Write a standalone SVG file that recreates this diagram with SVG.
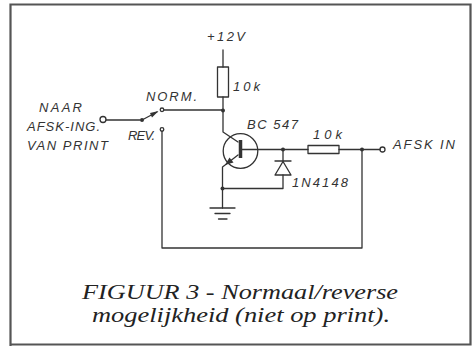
<svg xmlns="http://www.w3.org/2000/svg" width="476" height="347" viewBox="0 0 476 347">
<style>
.w{fill:none;stroke:#333;stroke-width:1.3;stroke-linecap:round;stroke-linejoin:round}
.d{fill:#333}
.t{font-family:"Liberation Sans",Arial,sans-serif;font-style:italic;font-size:13px;fill:#333}
.c{font-family:"Liberation Serif","Times New Roman",serif;font-style:italic;font-size:21px;fill:#222}
</style>
<rect width="476" height="347" fill="#fff"/>
<path d="M10.5,346 V4.5 H470.5 V344.5 H10.5" fill="none" stroke="#555" stroke-width="2.2"/>
<g id="connectors">
<path class="w" d="M223,50 V67 M223,97 V132 L238,142"/>
<path class="w" d="M106,120 H140"/>
<path class="w" d="M164,110 H223"/>
<path class="w" d="M162,131 V248 H362 V150"/>
<path class="w" d="M242,149.5 H308 M339,149.5 H380"/>
<path class="w" d="M283,149.5 V161 M283,175 V188.5 H222.5"/>
<path class="w" d="M238,155 L222.5,167 V208"/>
<circle class="d" cx="223" cy="110.5" r="2"/>
<circle class="d" cx="283" cy="149.5" r="2"/>
<circle class="d" cx="362" cy="149.5" r="2"/>
<circle class="d" cx="222.5" cy="188.5" r="2"/>
</g>
<g id="input-terminal">
<circle class="w" cx="103" cy="119.5" r="3"/>
<text class="t" x="39" y="112" textLength="43" lengthAdjust="spacing">NAAR</text>
<text class="t" x="27" y="130.5" textLength="73" lengthAdjust="spacing">AFSK-ING.</text>
<text class="t" x="27" y="150" textLength="81" lengthAdjust="spacing">VAN PRINT</text>
</g>
<g id="switch">
<circle class="d" cx="142" cy="120" r="2"/>
<path class="w" d="M142,120 L157,112"/>
<polygon class="d" points="158.5,111 150,113 152,117.5"/>
<circle class="w" cx="162" cy="109.8" r="1.8"/>
<circle class="w" cx="162" cy="129.5" r="1.8"/>
<text class="t" x="146" y="101" textLength="51" lengthAdjust="spacing">NORM.</text>
<text class="t" x="128" y="140" textLength="27" lengthAdjust="spacing">REV.</text>
</g>
<g id="supply">
<text class="t" x="207" y="41" textLength="38" lengthAdjust="spacing">+12V</text>
</g>
<g id="r1">
<rect class="w" x="217.5" y="67" width="11" height="30"/>
<text class="t" x="233" y="91" textLength="27" lengthAdjust="spacing">10k</text>
</g>
<g id="transistor">
<circle class="w" cx="240.5" cy="151" r="17.3"/>
<path d="M240.5,140 V158" stroke="#333" stroke-width="3.5"/>
<polygon class="d" points="225,165 229.5,157.5 233.5,162.5"/>
<text class="t" x="247" y="129" textLength="51" lengthAdjust="spacing">BC 547</text>
</g>
<g id="diode">
<path class="w" d="M275,161 H291"/>
<polygon class="w" points="283,161.5 275,175 291,175"/>
<text class="t" x="292" y="187" textLength="56" lengthAdjust="spacing">1N4148</text>
</g>
<g id="r2">
<rect class="w" x="308" y="145.5" width="31" height="8"/>
<text class="t" x="313" y="139" textLength="29" lengthAdjust="spacing">10k</text>
</g>
<g id="output-terminal">
<circle class="w" cx="382.5" cy="149.5" r="2.5"/>
<text class="t" x="393" y="149" textLength="62" lengthAdjust="spacing">AFSK IN</text>
</g>
<g id="ground">
<path class="w" d="M210,208 H235 M215,213.5 H230 M218.5,219 H227"/>
</g>
<g id="caption">
<text class="c" x="82" y="299" textLength="316" lengthAdjust="spacingAndGlyphs">FIGUUR 3 - Normaal/reverse</text>
<text class="c" x="92" y="322" textLength="298" lengthAdjust="spacingAndGlyphs">mogelijkheid (niet op print).</text>
</g>
</svg>
